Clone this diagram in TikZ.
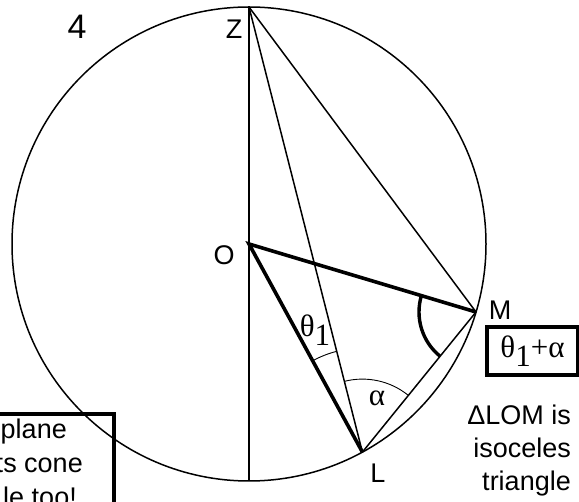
\documentclass[tikz,border=0pt]{standalone}
\usepackage{fontspec}
\setmainfont{Liberation Sans}
\newfontfamily\greekfont{Liberation Serif}
\usetikzlibrary{angles}
\tikzset{
  lbl/.style={font=\fontsize{27}{33}\selectfont, inner sep=0pt},
  glbl/.style={font=\greekfont\fontsize{31}{33}\selectfont, inner sep=0pt},
  thinline/.style={line width=1.5pt},
  thickline/.style={line width=3.6pt},
  framebox/.style={draw, line width=3.6pt},
}
\newcommand{\thsub}{θ\raisebox{-0.28em}{1}}
\begin{document}
\begin{tikzpicture}[x=1pt,y=-1pt]
\useasboundingbox (0,0) rectangle (579,502);
\coordinate (C) at (249,244);
\coordinate (Z) at (249,7);
\coordinate (B) at (249,481);
\coordinate (M) at (476,312);
\coordinate (L) at (362.4,452.1);
\coordinate (O) at (249,244);
% circle
\draw[thinline] (C) circle [radius=237];
% lines
\draw[thinline] (Z) -- (B);
\draw[thinline] (Z) -- (L);
\draw[thinline] (Z) -- (M);
\draw[thinline] (L) -- (M);
\draw[thickline, line join=miter] (M) -- (O) -- (L);
% angles
\pic[draw, line width=0.9pt, angle radius=104pt] {angle = Z--L--O};
\pic[draw, line width=0.9pt, angle radius=73pt] {angle = M--L--Z};
\pic[draw, line width=3.4pt, angle radius=57pt] {angle = O--M--L};
% labels
\node[lbl, font=\fontsize{34}{34}\selectfont] (four) at (77,27) {4};
\node[lbl] (zl) at (234,29) {Z};
\node[lbl] (ol) at (224,255) {O};
\node[lbl] (ml) at (500,310) {M};
\node[lbl] (ll) at (378,473) {L};
\node[glbl] (th) at (315,330) {\thsub};
\node[glbl] (al) at (377,398) {α};
% theta+alpha box
\node[framebox, glbl, minimum width=91pt, minimum height=48pt] (sumbox) at (532.5,351) {\thsub+α};
% right text
\node[lbl, align=right, anchor=east] (iso) at (571,451) {ΔLOM is\\isoceles\\triangle};
% left box
\draw[framebox] (-10,414) rectangle (114,540);
\node[lbl, anchor=base east] (t1) at (67,439) {plane};
\node[lbl, anchor=base east] (t2) at (83,473) {ts cone};
\node[lbl, anchor=base east] (t3) at (77,507) {le too!};
\end{tikzpicture}
\end{document}
